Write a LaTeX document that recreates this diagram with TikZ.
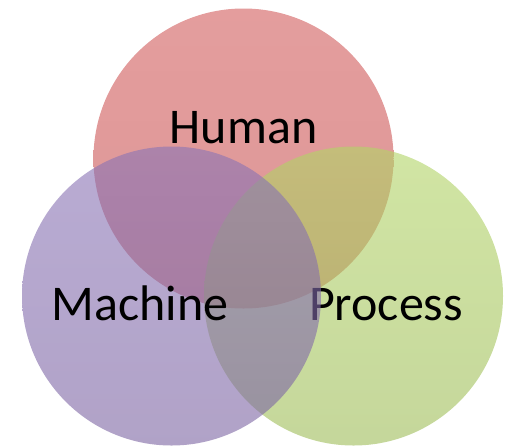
\documentclass[tikz,border=0pt]{standalone}
\usepackage{fontspec}
\setmainfont{Carlito}
\definecolor{humantop}{RGB}{210,92,92}
\definecolor{humanbottom}{RGB}{198,80,80}
\definecolor{processtop}{RGB}{178,212,102}
\definecolor{processbottom}{RGB}{158,188,88}
\definecolor{machinetop}{RGB}{138,116,182}
\definecolor{machinebottom}{RGB}{124,100,162}
\begin{document}
\begin{tikzpicture}[x=1pt,y=-1pt,
  setcircle/.style={fill opacity=0.6,draw=none},
  setlabel/.style={anchor=base,inner sep=0pt,font=\fontsize{50}{50}\selectfont,text=black}]
\useasboundingbox (0,0) rectangle (508,445);
% the three sets, bottom to top, each lightly shaded from top to bottom
\shade[setcircle,top color=humantop,bottom color=humanbottom] (243.5,158.5) circle[radius=150];
\shade[setcircle,top color=processtop,bottom color=processbottom] (353.5,296) circle[radius=149.5];
\node[setlabel] (process) at (386,320) {Process};
\shade[setcircle,top color=machinetop,bottom color=machinebottom] (171.5,296) circle[radius=149.5];
\node[setlabel] (human) at (243.5,143) {Human};
\node[setlabel] (machine) at (140,320) {Machine};
\end{tikzpicture}
\end{document}
